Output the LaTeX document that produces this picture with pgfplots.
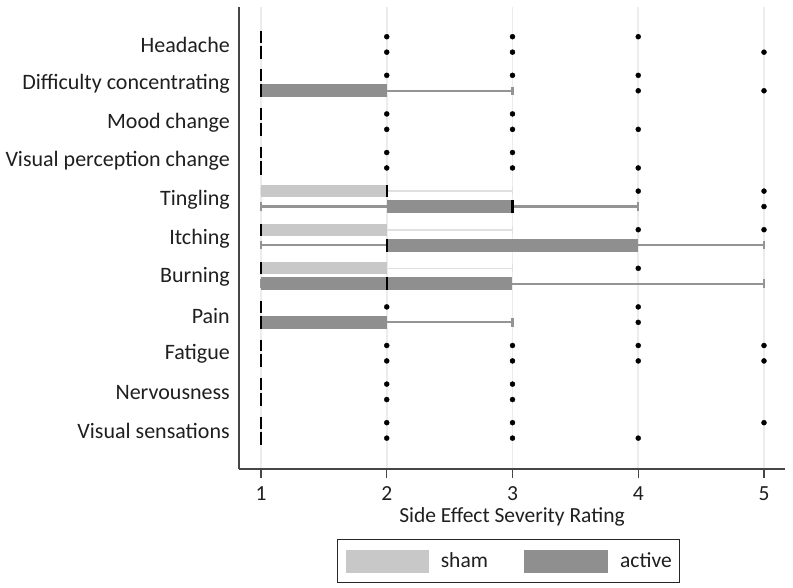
\documentclass[border=0pt]{standalone}
\usepackage{pgfplots}
\pgfplotsset{compat=1.18}
\usepgfplotslibrary{statistics}
\usepackage{fontspec}
\setmainfont{Carlito}
\definecolor{shamcol}{RGB}{200,200,200}
\definecolor{activecol}{RGB}{143,143,143}
\definecolor{shamwhisk}{RGB}{224,224,224}
\definecolor{activewhisk}{RGB}{148,148,148}
\definecolor{axiscol}{RGB}{70,70,70}
\definecolor{gridcol}{RGB}{236,236,236}
\pgfplotsset{
  shamst/.style={forget plot,
    boxplot/box extend=0.31, boxplot/whisker extend=0.2,
    boxplot/every box/.style={fill=shamcol, draw=none},
    boxplot/every whisker/.style={draw=shamwhisk, line width=1.6pt},
    boxplot/every median/.style={draw=black, line width=2.5pt}},
  activest/.style={forget plot,
    boxplot/box extend=0.34, boxplot/whisker extend=0.22,
    boxplot/every box/.style={fill=activecol, draw=none},
    boxplot/every whisker/.style={draw=activewhisk, line width=2.2pt},
    boxplot/every median/.style={draw=black, line width=2.5pt}},
}
\newcommand\bx[7]{\addplot[#1, boxplot prepared={draw position=#2, lower whisker=#3, lower quartile=#4, median=#5, upper quartile=#6, upper whisker=#7}] coordinates {};}
\begin{document}
\begin{tikzpicture}
\useasboundingbox (-239pt,-118pt) rectangle (554pt,469pt);
\begin{axis}[
  at={(0pt,0pt)}, anchor=south west,
  scale only axis, width=546pt, height=462pt,
  xmin=0.825, xmax=5.167, ymin=0.03, ymax=12.0, y dir=reverse,
  axis x line*=bottom, axis y line*=left,
  axis line style={axiscol, line width=1.3pt},
  tick align=outside, major tick length=9pt,
  xtick={1,2,3,4,5}, x tick style={axiscol, line width=1.3pt},
  ytick={1,2,3,4,5,6,7,8,9,10,11}, ytick style={draw=none},
  yticklabels={Headache, Difficulty concentrating, Mood change, Visual perception change, Tingling, Itching, Burning, Pain, Fatigue, Nervousness, Visual sensations},
  /pgf/number format/assume math mode=true,
  ticklabel style={font=\fontsize{21.5}{25}\selectfont, text=black!88},
  yticklabel style={inner xsep=0pt, font=\fontsize{22}{26}\selectfont, yshift=-1pt},
  xticklabel style={yshift=-5pt},
  xmajorgrids, grid style={gridcol, line width=1.5pt},
  xlabel={Side Effect Severity Rating},
  every axis x label/.style={at={(axis description cs:0.5,0)}, anchor=base, yshift=-53pt, font=\fontsize{21.5}{25}\selectfont, text=black!88},
  boxplot/draw direction=x,
  boxplot/draw/.code={%
    \draw[/pgfplots/boxplot/every whisker/.try]
      (boxplot box cs:\pgfplotsboxplotvalue{lower whisker},0.5) -- (boxplot box cs:\pgfplotsboxplotvalue{lower quartile},0.5)
      (boxplot box cs:\pgfplotsboxplotvalue{upper quartile},0.5) -- (boxplot box cs:\pgfplotsboxplotvalue{upper whisker},0.5)
      (boxplot whisker cs:\pgfplotsboxplotvalue{lower whisker},0) -- (boxplot whisker cs:\pgfplotsboxplotvalue{lower whisker},1)
      (boxplot whisker cs:\pgfplotsboxplotvalue{upper whisker},0) -- (boxplot whisker cs:\pgfplotsboxplotvalue{upper whisker},1);
    \draw[/pgfplots/boxplot/every box/.try]
      (boxplot box cs:\pgfplotsboxplotvalue{lower quartile},0) rectangle (boxplot box cs:\pgfplotsboxplotvalue{upper quartile},1);
    \draw[/pgfplots/boxplot/every median/.try]
      (boxplot box cs:\pgfplotsboxplotvalue{median},0) -- (boxplot box cs:\pgfplotsboxplotvalue{median},1);
  },
  legend columns=2,
  legend style={at={(axis description cs:0.1795,-0.1515)}, anchor=north west,
    draw=black!85, line width=1.2pt, inner xsep=8pt, inner ysep=10pt,
    font=\fontsize{21.5}{25}\selectfont, text=black!88,
    nodes={inner xsep=0pt, inner ysep=0pt},
    /tikz/every odd column/.append style={column sep=12pt},
    /tikz/every even column/.append style={column sep=36pt}},
]
% sham: position, lower whisker, lower quartile, median, upper quartile, upper whisker
\bx{shamst}{0.8}{1}{1}{1}{1}{1}
\bx{shamst}{1.8}{1}{1}{1}{1}{1}
\bx{shamst}{2.8}{1}{1}{1}{1}{1}
\bx{shamst}{3.8}{1}{1}{1}{1}{1}
\bx{shamst}{4.8}{1}{1}{2}{2}{3}
\bx{shamst}{5.8}{1}{1}{1}{2}{3}
\bx{shamst}{6.8}{1}{1}{1}{2}{3}
\bx{shamst}{7.8}{1}{1}{1}{1}{1}
\bx{shamst}{8.8}{1}{1}{1}{1}{1}
\bx{shamst}{9.8}{1}{1}{1}{1}{1}
\bx{shamst}{10.8}{1}{1}{1}{1}{1}
% active
\bx{activest}{1.2}{1}{1}{1}{1}{1}
\bx{activest}{2.2}{1}{1}{1}{2}{3}
\bx{activest}{3.2}{1}{1}{1}{1}{1}
\bx{activest}{4.2}{1}{1}{1}{1}{1}
\bx{activest}{5.2}{1}{2}{3}{3}{4}
\bx{activest}{6.2}{1}{2}{2}{4}{5}
\bx{activest}{7.2}{1}{1}{2}{3}{5}
\bx{activest}{8.2}{1}{1}{1}{2}{3}
\bx{activest}{9.2}{1}{1}{1}{1}{1}
\bx{activest}{10.2}{1}{1}{1}{1}{1}
\bx{activest}{11.2}{1}{1}{1}{1}{1}
% outliers
\addplot[only marks, mark=*, mark size=2.5pt, black, forget plot] coordinates {
 (2,0.8) (3,0.8) (4,0.8)
 (2,1.8) (3,1.8) (4,1.8)
 (2,2.8) (3,2.8)
 (2,3.8) (3,3.8)
 (4,4.8) (5,4.8)
 (4,5.8) (5,5.8)
 (4,6.8)
 (2,7.8) (4,7.8)
 (2,8.8) (3,8.8) (4,8.8) (5,8.8)
 (2,9.8) (3,9.8)
 (2,10.8) (3,10.8) (5,10.8)
};
\addplot[only marks, mark=*, mark size=2.5pt, black, forget plot] coordinates {
 (2,1.2) (3,1.2) (5,1.2)
 (4,2.2) (5,2.2)
 (2,3.2) (3,3.2) (4,3.2)
 (2,4.2) (3,4.2) (4,4.2)
 (5,5.2)
 (4,8.2)
 (2,9.2) (3,9.2) (4,9.2) (5,9.2)
 (2,10.2) (3,10.2)
 (2,11.2) (3,11.2) (4,11.2)
};
\addlegendimage{legend image code/.code={\fill[shamcol] (0pt,-11pt) rectangle (82pt,11pt);}}
\addlegendentry{sham}
\addlegendimage{legend image code/.code={\fill[activecol] (0pt,-11pt) rectangle (83pt,11pt);}}
\addlegendentry{active}
\end{axis}
\end{tikzpicture}
\end{document}
